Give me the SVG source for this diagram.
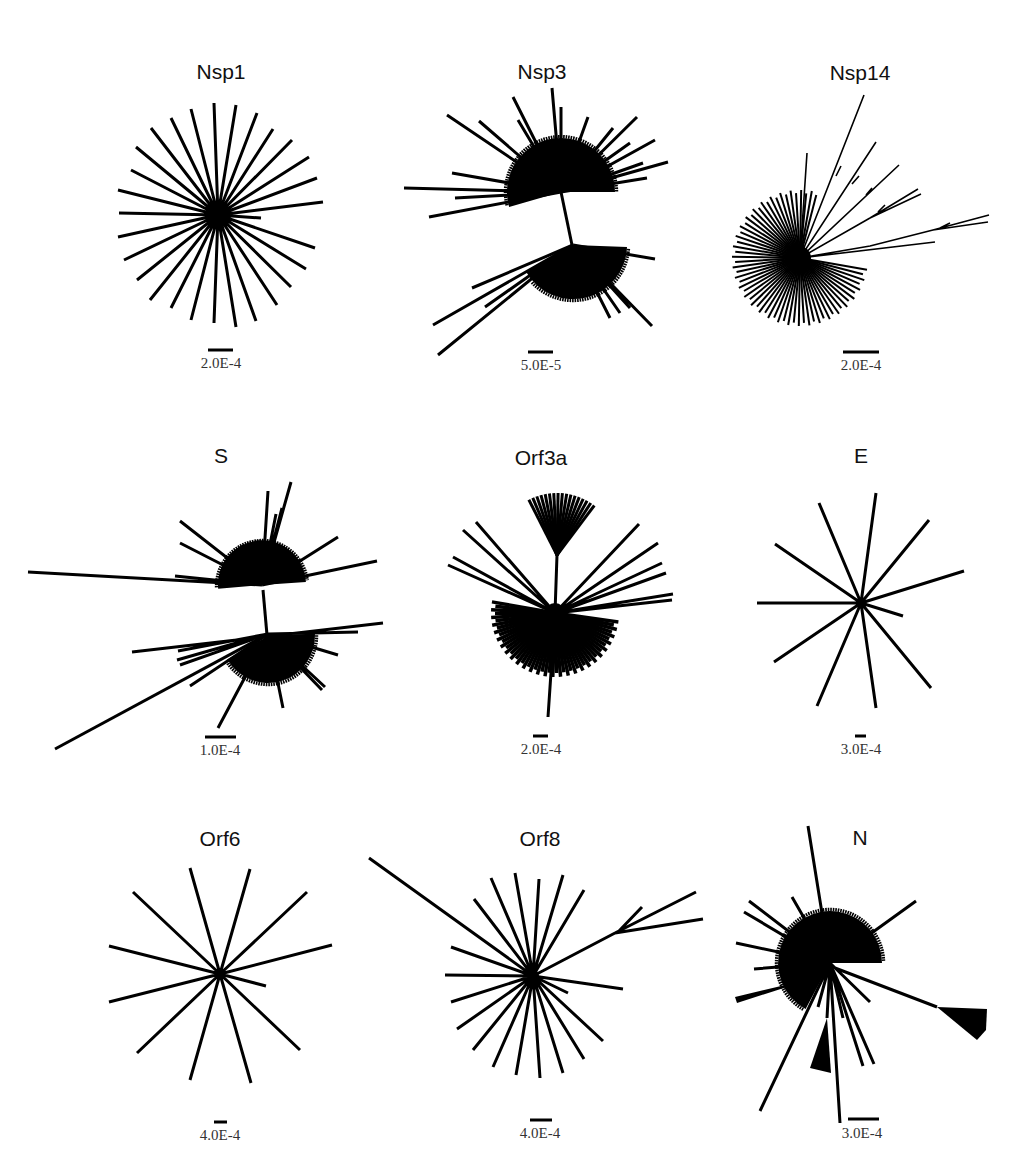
<svg xmlns="http://www.w3.org/2000/svg" xmlns:xlink="http://www.w3.org/1999/xlink" width="1019" height="1169" viewBox="0 0 1019 1169">
<style>
.t{font-family:"Liberation Sans",Arial,sans-serif;font-size:21px;fill:#111;text-anchor:middle}
.sc{font-family:"Liberation Serif","Times New Roman",serif;font-size:15px;fill:#333;text-anchor:middle}
.br{stroke:#000;stroke-width:3;fill:none;stroke-linecap:butt}
.th{stroke:#000;stroke-width:1.6;fill:none}
.bar{stroke:#000;stroke-width:3}
.jag{fill:none;stroke:#000;stroke-width:3.5;stroke-dasharray:1.6 0.9}
.blob{fill:#000}
</style>
<defs>
<line id="n14a" x1="0" y1="0" x2="68" y2="0"/>
<line id="n14b" x1="0" y1="0" x2="65" y2="0"/>
<line id="o3a" x1="0" y1="0" x2="64" y2="0"/>
<line id="o3b" x1="0" y1="0" x2="60" y2="0"/>
<line id="o3u" x1="0" y1="0" x2="62" y2="0"/>
</defs>
<rect width="1019" height="1169" fill="#fff"/>

<g id="nsp1">
<text class="t" x="221" y="79">Nsp1</text>
<path class="br" stroke-width="3.3" d="M218 215L214 103M218 215L236 105M218 215L257 113M218 215L273 129M218 215L292 140M218 215L309 157M218 215L317 178M218 215L323 202M218 215L261 218M218 215L315 248M218 215L306 269M218 215L291 287M218 215L277 305M218 215L256 321M218 215L236 327M218 215L214 323M218 215L191 320M218 215L171 308M218 215L150 300M218 215L137 280M218 215L124 260M218 215L118 237M218 215L119 213M218 215L118 190M218 215L131 170M218 215L136 147M218 215L151 128M218 215L171 118M218 215L191 109"/>
<circle cx="218" cy="215" r="8"/>
<line class="bar" x1="208" y1="350" x2="233" y2="350"/>
<text class="sc" x="221" y="368">2.0E-4</text>
</g>

<g id="nsp3">
<text class="t" x="542" y="79">Nsp3</text>
<path class="blob" d="M561 192L509.1 206.9A54 54 0 1 1 615 192Z"/>
<path class="jag" d="M507.1 205.4A55.5 55.5 0 1 1 616.5 192"/>
<path class="br" d="M561 192L447 115M561 192L479 121M561 192L518 120M561 192L552 88M561 192L561 107M561 192L588 117M561 192L637 117M561 192L630 143M561 192L655 140M561 192L668 162M561 192L643 163M561 192L647 178M561 192L452 173M561 192L404 188M561 192L455 198M561 192L429 217"/>
<path class="br" stroke-width="4.5" d="M561 192L513 97M561 192L613 128"/>
<path class="br" d="M561 192L572 245"/>
<path class="blob" d="M573 245L627 246.9A54 54 0 0 1 526.2 272Z"/>
<path class="jag" d="M628.4 248.9A55.5 55.5 0 0 1 531.8 282.1"/>
<path class="br" d="M573 245L433 325M573 245L438 355M573 245L485 307M573 245L610 318M573 245L620 313M573 245L630 308M573 245L652 326M573 245L655 259"/>
<path class="br" stroke-width="5" d="M573 245L472 288"/>
<line class="bar" x1="528" y1="352" x2="553" y2="352"/>
<text class="sc" x="541" y="370">5.0E-5</text>
</g>

<g id="nsp14">
<text class="t" x="860" y="80">Nsp14</text>
<g transform="translate(800,258)" stroke="#000" stroke-width="2">
<use xlink:href="#n14a" transform="rotate(10)"/><use xlink:href="#n14b" transform="rotate(14.5)"/><use xlink:href="#n14a" transform="rotate(19)"/><use xlink:href="#n14b" transform="rotate(23.5)"/><use xlink:href="#n14a" transform="rotate(28)"/><use xlink:href="#n14b" transform="rotate(32.5)"/><use xlink:href="#n14a" transform="rotate(37)"/><use xlink:href="#n14b" transform="rotate(41.5)"/><use xlink:href="#n14a" transform="rotate(46)"/><use xlink:href="#n14b" transform="rotate(50.5)"/><use xlink:href="#n14a" transform="rotate(55)"/><use xlink:href="#n14b" transform="rotate(59.5)"/><use xlink:href="#n14a" transform="rotate(64)"/><use xlink:href="#n14b" transform="rotate(68.5)"/><use xlink:href="#n14a" transform="rotate(73)"/><use xlink:href="#n14b" transform="rotate(77.5)"/><use xlink:href="#n14a" transform="rotate(82)"/><use xlink:href="#n14b" transform="rotate(86.5)"/><use xlink:href="#n14a" transform="rotate(91)"/><use xlink:href="#n14b" transform="rotate(95.5)"/><use xlink:href="#n14a" transform="rotate(100)"/><use xlink:href="#n14b" transform="rotate(104.5)"/><use xlink:href="#n14a" transform="rotate(109)"/><use xlink:href="#n14b" transform="rotate(113.5)"/><use xlink:href="#n14a" transform="rotate(118)"/><use xlink:href="#n14b" transform="rotate(122.5)"/><use xlink:href="#n14a" transform="rotate(127)"/><use xlink:href="#n14b" transform="rotate(131.5)"/><use xlink:href="#n14a" transform="rotate(136)"/><use xlink:href="#n14b" transform="rotate(140.5)"/><use xlink:href="#n14a" transform="rotate(145)"/><use xlink:href="#n14b" transform="rotate(149.5)"/><use xlink:href="#n14a" transform="rotate(154)"/><use xlink:href="#n14b" transform="rotate(158.5)"/><use xlink:href="#n14a" transform="rotate(163)"/><use xlink:href="#n14b" transform="rotate(167.5)"/><use xlink:href="#n14a" transform="rotate(172)"/><use xlink:href="#n14b" transform="rotate(176.5)"/><use xlink:href="#n14a" transform="rotate(181)"/><use xlink:href="#n14b" transform="rotate(185.5)"/><use xlink:href="#n14a" transform="rotate(190)"/><use xlink:href="#n14b" transform="rotate(194.5)"/><use xlink:href="#n14a" transform="rotate(199)"/><use xlink:href="#n14b" transform="rotate(203.5)"/><use xlink:href="#n14a" transform="rotate(208)"/><use xlink:href="#n14b" transform="rotate(212.5)"/><use xlink:href="#n14a" transform="rotate(217)"/><use xlink:href="#n14b" transform="rotate(221.5)"/><use xlink:href="#n14a" transform="rotate(226)"/><use xlink:href="#n14b" transform="rotate(230.5)"/><use xlink:href="#n14a" transform="rotate(235)"/><use xlink:href="#n14b" transform="rotate(239.5)"/><use xlink:href="#n14a" transform="rotate(244)"/><use xlink:href="#n14b" transform="rotate(248.5)"/><use xlink:href="#n14a" transform="rotate(253)"/><use xlink:href="#n14b" transform="rotate(257.5)"/><use xlink:href="#n14a" transform="rotate(262)"/><use xlink:href="#n14b" transform="rotate(266.5)"/><use xlink:href="#n14a" transform="rotate(271)"/><use xlink:href="#n14b" transform="rotate(275.5)"/><use xlink:href="#n14a" transform="rotate(280)"/><use xlink:href="#n14b" transform="rotate(284.5)"/>
</g>
<circle cx="799" cy="258" r="12"/>
<path class="th" d="M800 258L807 153M800 258L864 95M836 176L841 166M800 258L876 142M852 184L859 176M800 258L899 165M866 195L872 188M800 258L870 218L918 189M870 218L921 194M878 212L885 205M800 258L870 246L933 230L989 215M933 230L988 222M940 228L950 223M800 258L935 242"/>
<line class="bar" x1="843" y1="352" x2="879" y2="352"/>
<text class="sc" x="861" y="370">2.0E-4</text>
</g>

<g id="s">
<text class="t" x="221" y="463">S</text>
<path class="blob" d="M262 585L218.2 588.8A44 44 0 1 1 305.9 581.9Z"/>
<path class="jag" d="M216.6 587.4A45.5 45.5 0 0 1 307.2 580.2"/>
<path class="br" d="M262 585L28 572M262 585L180 521M262 585L180 543M262 585L175 576M262 585L268 491M262 585L291 482M262 585L276 514M262 585L282 508M262 585L338 537M262 585L377 561"/>
<path class="br" d="M263 590L267 635"/>
<path class="blob" d="M268 636L314.9 633.5A47 47 0 0 1 227.3 659.5Z"/>
<path class="jag" d="M316.5 635.2A48.5 48.5 0 0 1 226.9 661.7"/>
<path class="br" d="M132 652L383 623M268 634L358 632M268 634L178 651M268 634L177 660M268 634L180 665M268 634L190 686M268 634L218 728M268 634L283 708M268 634L322 690M268 634L325 687M268 634L338 655"/>
<path class="br" stroke-width="3.6" d="M268 634L55 749"/>
<line class="bar" x1="205" y1="737" x2="236" y2="737"/>
<text class="sc" x="220" y="755">1.0E-4</text>
</g>

<g id="orf3a">
<text class="t" x="541" y="465">Orf3a</text>
<path class="br" d="M555 613L557 555M555 613L548 717M555 613L463 530M555 613L476 522M555 613L448 565M555 613L453 557M555 613L639 524M555 613L658 543M555 613L662 563M555 613L666 573M555 613L673 594M555 613L672 600"/>
<g transform="translate(557,555)" stroke="#000" stroke-width="3">
<use xlink:href="#o3u" transform="rotate(-117)"/><use xlink:href="#o3u" transform="rotate(-113)"/><use xlink:href="#o3u" transform="rotate(-109)"/><use xlink:href="#o3u" transform="rotate(-105)"/><use xlink:href="#o3u" transform="rotate(-101)"/><use xlink:href="#o3u" transform="rotate(-97)"/><use xlink:href="#o3u" transform="rotate(-93)"/><use xlink:href="#o3u" transform="rotate(-89)"/><use xlink:href="#o3u" transform="rotate(-85)"/><use xlink:href="#o3u" transform="rotate(-81)"/><use xlink:href="#o3u" transform="rotate(-77)"/><use xlink:href="#o3u" transform="rotate(-73)"/><use xlink:href="#o3u" transform="rotate(-69)"/><use xlink:href="#o3u" transform="rotate(-65)"/><use xlink:href="#o3u" transform="rotate(-61)"/><use xlink:href="#o3u" transform="rotate(-57)"/><use xlink:href="#o3u" transform="rotate(-53)"/>
</g>
<g transform="translate(555,613)" stroke="#000" stroke-width="3.5">
<use xlink:href="#o3a" transform="rotate(8)"/><use xlink:href="#o3b" transform="rotate(11.5)"/><use xlink:href="#o3a" transform="rotate(15)"/><use xlink:href="#o3b" transform="rotate(18.5)"/><use xlink:href="#o3a" transform="rotate(22)"/><use xlink:href="#o3b" transform="rotate(25.5)"/><use xlink:href="#o3a" transform="rotate(29)"/><use xlink:href="#o3b" transform="rotate(32.5)"/><use xlink:href="#o3a" transform="rotate(36)"/><use xlink:href="#o3b" transform="rotate(39.5)"/><use xlink:href="#o3a" transform="rotate(43)"/><use xlink:href="#o3b" transform="rotate(46.5)"/><use xlink:href="#o3a" transform="rotate(50)"/><use xlink:href="#o3b" transform="rotate(53.5)"/><use xlink:href="#o3a" transform="rotate(57)"/><use xlink:href="#o3b" transform="rotate(60.5)"/><use xlink:href="#o3a" transform="rotate(64)"/><use xlink:href="#o3b" transform="rotate(67.5)"/><use xlink:href="#o3a" transform="rotate(71)"/><use xlink:href="#o3b" transform="rotate(74.5)"/><use xlink:href="#o3a" transform="rotate(78)"/><use xlink:href="#o3b" transform="rotate(81.5)"/><use xlink:href="#o3a" transform="rotate(85)"/><use xlink:href="#o3b" transform="rotate(88.5)"/><use xlink:href="#o3a" transform="rotate(92)"/><use xlink:href="#o3b" transform="rotate(95.5)"/><use xlink:href="#o3a" transform="rotate(99)"/><use xlink:href="#o3b" transform="rotate(102.5)"/><use xlink:href="#o3a" transform="rotate(106)"/><use xlink:href="#o3b" transform="rotate(109.5)"/><use xlink:href="#o3a" transform="rotate(113)"/><use xlink:href="#o3b" transform="rotate(116.5)"/><use xlink:href="#o3a" transform="rotate(120)"/><use xlink:href="#o3b" transform="rotate(123.5)"/><use xlink:href="#o3a" transform="rotate(127)"/><use xlink:href="#o3b" transform="rotate(130.5)"/><use xlink:href="#o3a" transform="rotate(134)"/><use xlink:href="#o3b" transform="rotate(137.5)"/><use xlink:href="#o3a" transform="rotate(141)"/><use xlink:href="#o3b" transform="rotate(144.5)"/><use xlink:href="#o3a" transform="rotate(148)"/><use xlink:href="#o3b" transform="rotate(151.5)"/><use xlink:href="#o3a" transform="rotate(155)"/><use xlink:href="#o3b" transform="rotate(158.5)"/><use xlink:href="#o3a" transform="rotate(162)"/><use xlink:href="#o3b" transform="rotate(165.5)"/><use xlink:href="#o3a" transform="rotate(169)"/><use xlink:href="#o3b" transform="rotate(172.5)"/><use xlink:href="#o3a" transform="rotate(176)"/><use xlink:href="#o3b" transform="rotate(179.5)"/><use xlink:href="#o3a" transform="rotate(183)"/><use xlink:href="#o3b" transform="rotate(186.5)"/><use xlink:href="#o3a" transform="rotate(190)"/>
</g>
<circle cx="555" cy="613" r="10"/>
<line class="bar" x1="533" y1="736" x2="548" y2="736"/>
<text class="sc" x="541" y="754">2.0E-4</text>
</g>

<g id="e">
<text class="t" x="861" y="463">E</text>
<path class="br" d="M861 603L876 493M861 603L929 520M861 603L964 571M861 603L903 616M861 603L931 688M861 603L876 708M861 603L817 706M861 603L774 662M861 603L757 603M861 603L775 544M861 603L819 503"/>
<circle cx="861" cy="603" r="4"/>
<line class="bar" x1="855" y1="736" x2="866" y2="736"/>
<text class="sc" x="861" y="754">3.0E-4</text>
</g>

<g id="orf6">
<text class="t" x="220" y="846">Orf6</text>
<path class="br" d="M220 974L190 868M220 974L250 869M220 974L307 892M220 974L332 945M220 974L266 986M220 974L300 1050M220 974L251 1083M220 974L190 1080M220 974L137 1053M220 974L109 1002M220 974L109 946M220 974L133 892"/>
<circle cx="220" cy="974" r="4"/>
<line class="bar" x1="214" y1="1122" x2="227" y2="1122"/>
<text class="sc" x="220" y="1140">4.0E-4</text>
</g>

<g id="orf8">
<text class="t" x="540" y="846">Orf8</text>
<path class="br" d="M533 976L369 858M533 976L491 878M533 976L515 873M533 976L539 879M533 976L563 875M533 976L584 890M533 976L474 899M533 976L451 947M533 976L445 975M533 976L451 1002M533 976L457 1029M533 976L473 1050M533 976L493 1067M533 976L516 1075M533 976L540 1078M533 976L563 1073M533 976L584 1059M533 976L603 1041M533 976L568 993M533 976L623 989M533 976L615 933L696 892M615 933L703 919M619 931L642 907"/>
<circle cx="533" cy="976" r="6"/>
<line class="bar" x1="530" y1="1120" x2="552" y2="1120"/>
<text class="sc" x="540" y="1138">4.0E-4</text>
</g>

<g id="n">
<text class="t" x="860" y="845">N</text>
<path class="blob" d="M830 963L805.6 1008.9A52 52 0 1 1 882 963Z"/>
<path class="jag" d="M803.3 1009.3A53.5 53.5 0 1 1 883.5 961.1"/>
<path class="br" d="M830 963L808 826M830 963L792 897M830 963L749 901M830 963L736 943M830 963L754 969M830 963L916 901M830 963L760 1111M830 963L840 1123M830 963L827 1018M830 963L843 1018M830 963L870 1002M830 963L818 1007M835 968L937 1007"/>
<path class="br" stroke-width="5" d="M830 963L744 912"/>
<path class="br" stroke-width="3.6" d="M830 963L863 1066M830 963L874 1064"/>
<polygon points="815,978 735,997 737,1003"/>
<polygon points="827,1018 810,1068 831,1073"/>
<polygon points="937,1007 987,1009 986,1030 977,1040"/>
<line class="bar" x1="848" y1="1119" x2="879" y2="1119"/>
<text class="sc" x="862" y="1138">3.0E-4</text>
</g>
</svg>
